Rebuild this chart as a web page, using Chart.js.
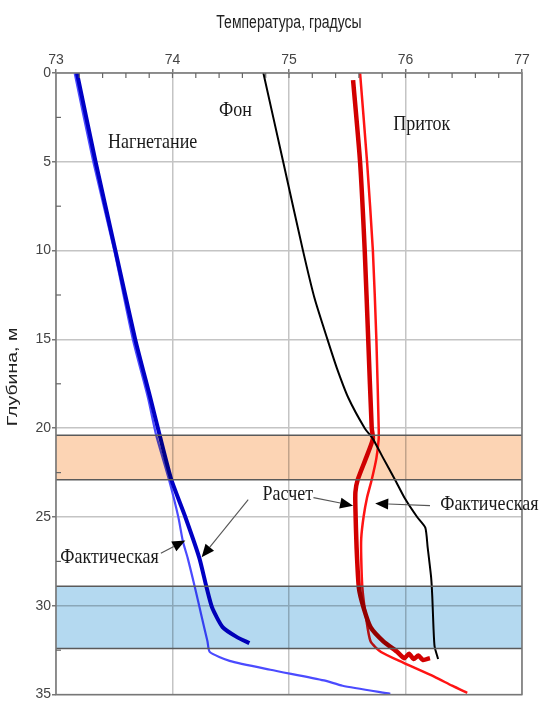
<!DOCTYPE html>
<html lang="ru">
<head>
<meta charset="utf-8">
<title>Температура по глубине</title>
<script src="https://cdn.jsdelivr.net/npm/chart.js@4/dist/chart.umd.min.js"></script>
<style>
  html, body { margin: 0; padding: 0; background: #fff; }
  #wrap { width: 543px; height: 704px; }
</style>
</head>
<body>
<div id="wrap"><canvas id="c" width="543" height="704"></canvas></div>
<script>
// Axis ranges and tick values
const tempTicks = [73, 74, 75, 76, 77];
const depthTicks = [0, 5, 10, 15, 20, 25, 30, 35];

// Background profile ("Фон")
const bgDepth = [0, 5, 10, 12.7, 15, 16.6, 18.3, 20, 20.6, 21.7, 22.9, 23.9, 25, 25.6, 26.7, 28.4, 29.5, 31.2, 32.3, 33.0];
const bgTemp  = [74.78, 74.95, 75.12, 75.22, 75.33, 75.41, 75.51, 75.65, 75.72, 75.81, 75.91, 75.99, 76.10, 76.17, 76.19, 76.22, 76.23, 76.24, 76.25, 76.28];

// Production well ("Приток"): calculated
const inCalcDepth = [0.4, 5, 10, 15, 20, 20.6, 21.7, 22.9, 23.6, 24.5, 26.7, 29.0, 30.1, 31.2, 32.0, 32.6, 32.95, 32.7, 33.0, 32.8, 33.05, 32.95];
const inCalcTemp  = [75.55, 75.61, 75.65, 75.68, 75.71, 75.72, 75.66, 75.59, 75.57, 75.57, 75.58, 75.60, 75.64, 75.70, 75.81, 75.93, 75.99, 76.03, 76.07, 76.11, 76.15, 76.21];

// Production well ("Приток"): measured
const inFactDepth = [0, 5, 10, 15, 20, 20.6, 21.7, 22.9, 23.9, 25.0, 26.2, 27.3, 29.0, 30.6, 32.0, 32.6, 33.2, 34.0, 34.5, 34.9];
const inFactTemp  = [75.61, 75.67, 75.72, 75.75, 75.77, 75.77, 75.75, 75.71, 75.67, 75.64, 75.62, 75.62, 75.63, 75.66, 75.70, 75.79, 75.98, 76.25, 76.40, 76.53];

// Injection well ("Нагнетание"): calculated
const injCalcDepth = [0, 5, 10, 15, 18.3, 20.4, 22.9, 25.0, 27.3, 28.9, 30.1, 31.2, 31.75, 32.1];
const injCalcTemp  = [73.18, 73.34, 73.51, 73.68, 73.81, 73.89, 73.99, 74.11, 74.23, 74.29, 74.34, 74.43, 74.55, 74.66];

// Injection well ("Нагнетание"): measured
const injFactDepth = [0, 5, 10, 15, 18.3, 20.4, 22.9, 25.0, 26.4, 27.3, 28.9, 30.6, 32.0, 32.6, 33.1, 33.6, 34.2, 34.5, 34.95];
const injFactTemp  = [73.16, 73.32, 73.50, 73.66, 73.79, 73.86, 73.97, 74.05, 74.09, 74.13, 74.19, 74.25, 74.30, 74.32, 74.49, 74.84, 75.30, 75.46, 75.87];

// Shaded depth intervals
const zoneFrom   = [20.4, 28.9];
const zoneTo     = [22.9, 32.4];
const zoneColors = ['#fcd4b4', '#b4d9f0'];

// In-plot captions: text, temperature, depth
const captionText  = ['Нагнетание', 'Фон', 'Приток', 'Расчет', 'Фактическая', 'Фактическая'];
const captionTemp  = [73.83, 74.54, 76.14, 74.99, 73.46, 76.72];
const captionDepth = [3.92, 2.07, 2.86, 23.74, 27.27, 24.3];

// Pointer arrows: start (temp, depth) -> tip (temp, depth)
const arrowFromT = [74.65, 73.90, 75.21, 76.21];
const arrowFromD = [24.02, 27.04, 23.91, 24.36];
const arrowToT   = [74.25, 74.11, 75.55, 75.74];
const arrowToD   = [27.27, 26.32, 24.36, 24.24];

const pts = (t, d) => t.map((v, i) => ({ x: v, y: d[i] }));

const tickFont = { family: '"Liberation Sans Narrow", "Arial Narrow", "Liberation Sans", sans-serif', size: 14 };

// Text drawn with a vertical stretch factor
function tallText(ctx, s, x, y, sy) {
  ctx.save();
  ctx.translate(x, y);
  ctx.scale(1, sy);
  ctx.fillText(s, 0, 0);
  ctx.restore();
}

const overlay = {
  id: 'overlay',
  beforeDraw(chart) {
    const { ctx } = chart;
    ctx.save();
    ctx.fillStyle = '#fff';
    ctx.fillRect(0, 0, chart.width, chart.height);
    ctx.restore();
  },
  afterDatasetsDraw(chart) {
    const { ctx, chartArea: a, scales: { x, y } } = chart;
    // Tinted intervals blended over curves and grid
    ctx.save();
    ctx.globalCompositeOperation = 'multiply';
    zoneFrom.forEach((f, i) => {
      const y0 = y.getPixelForValue(f), y1 = y.getPixelForValue(zoneTo[i]);
      ctx.fillStyle = zoneColors[i];
      ctx.fillRect(a.left, y0, a.width, y1 - y0);
    });
    ctx.restore();
    ctx.save();
    ctx.strokeStyle = '#5a5a5a';
    ctx.lineWidth = 1.5;
    zoneFrom.forEach((f, i) => {
      [f, zoneTo[i]].forEach(v => {
        const yy = y.getPixelForValue(v);
        ctx.beginPath(); ctx.moveTo(a.left, yy); ctx.lineTo(a.right, yy); ctx.stroke();
      });
    });
    // Frame
    ctx.strokeStyle = '#777';
    ctx.lineWidth = 1.5;
    ctx.strokeRect(a.left, a.top, a.width, a.height);
    // Minor ticks inside the frame
    ctx.lineWidth = 1.2;
    ctx.strokeStyle = '#666';
    for (let t = 73.2; t < 77; t += 0.2) {
      const xx = x.getPixelForValue(t);
      ctx.beginPath(); ctx.moveTo(xx, a.top); ctx.lineTo(xx, a.top + 5); ctx.stroke();
    }
    for (let d = 2.5; d < 35; d += 5) {
      const yy = y.getPixelForValue(d);
      ctx.beginPath(); ctx.moveTo(a.left, yy); ctx.lineTo(a.left + 5, yy); ctx.stroke();
    }
    // Arrows
    arrowFromT.forEach((t, i) => {
      const x0 = x.getPixelForValue(t), y0 = y.getPixelForValue(arrowFromD[i]);
      const x1 = x.getPixelForValue(arrowToT[i]), y1 = y.getPixelForValue(arrowToD[i]);
      const ang = Math.atan2(y1 - y0, x1 - x0);
      const L = 13, W = 5.5;
      const bx = x1 - L * Math.cos(ang), by = y1 - L * Math.sin(ang);
      ctx.strokeStyle = '#555';
      ctx.lineWidth = 1.1;
      ctx.beginPath(); ctx.moveTo(x0, y0); ctx.lineTo(bx, by); ctx.stroke();
      ctx.fillStyle = '#000';
      ctx.beginPath();
      ctx.moveTo(x1, y1);
      ctx.lineTo(bx + W * Math.sin(ang), by - W * Math.cos(ang));
      ctx.lineTo(bx - W * Math.sin(ang), by + W * Math.cos(ang));
      ctx.closePath(); ctx.fill();
    });
    // Captions
    ctx.fillStyle = '#1a1a1a';
    ctx.font = '18px "Liberation Serif", "Times New Roman", serif';
    ctx.textAlign = 'center';
    ctx.textBaseline = 'middle';
    captionText.forEach((s, i) => {
      tallText(ctx, s, x.getPixelForValue(captionTemp[i]), y.getPixelForValue(captionDepth[i]), 1.22);
    });
    ctx.restore();
  },
  afterDraw(chart) {
    const { ctx, chartArea: a } = chart;
    ctx.save();
    ctx.fillStyle = '#222';
    ctx.font = '14px "Liberation Sans", Arial, sans-serif';
    ctx.textAlign = 'center';
    ctx.textBaseline = 'middle';
    tallText(ctx, 'Температура, градусы', (a.left + a.right) / 2, 23, 1.25);
    ctx.translate(13, 377);
    ctx.rotate(-Math.PI / 2);
    ctx.scale(1.3, 1);
    ctx.font = '15px "Liberation Sans", Arial, sans-serif';
    ctx.fillText('Глубина, м', 0, 0);
    ctx.restore();
  }
};

const line = (label, t, d, color, width) => ({
  label, data: pts(t, d), borderColor: color, backgroundColor: color,
  borderWidth: width, showLine: true, pointRadius: 0, tension: 0.2, fill: false
});

new Chart(document.getElementById('c'), {
  type: 'scatter',
  data: {
    datasets: [
      line('Фон', bgTemp, bgDepth, '#000000', 2),
      line('Приток — расчет', inCalcTemp, inCalcDepth, '#d20000', 4.5),
      line('Приток — фактическая', inFactTemp, inFactDepth, '#ff1414', 2.5),
      line('Нагнетание — расчет', injCalcTemp, injCalcDepth, '#0000c4', 4),
      line('Нагнетание — фактическая', injFactTemp, injFactDepth, '#4b4bff', 2.2)
    ]
  },
  options: {
    responsive: false,
    devicePixelRatio: 1,
    animation: false,
    layout: { padding: { left: 0, top: 0, right: 21, bottom: 6 } },
    plugins: { legend: { display: false }, tooltip: { enabled: false } },
    scales: {
      x: {
        type: 'linear', position: 'top', min: tempTicks[0], max: tempTicks[tempTicks.length - 1],
        afterBuildTicks: s => { s.ticks = tempTicks.map(v => ({ value: v })); },
        afterFit: s => { s.height = 73; },
        ticks: { color: '#444', font: tickFont, padding: 0, maxRotation: 0 },
        grid: { color: '#c4c4c4', lineWidth: 1.5, tickLength: 4, tickColor: '#777' },
        border: { display: false }
      },
      y: {
        type: 'linear', reverse: true, min: depthTicks[0], max: depthTicks[depthTicks.length - 1],
        afterBuildTicks: s => { s.ticks = depthTicks.map(v => ({ value: v })); },
        afterFit: s => { s.width = 56; },
        ticks: { color: '#444', font: tickFont, padding: 1 },
        grid: { color: '#c4c4c4', lineWidth: 1.5, tickLength: 4, tickColor: '#777' },
        border: { display: false }
      }
    }
  },
  plugins: [overlay]
});
</script>
</body>
</html>
